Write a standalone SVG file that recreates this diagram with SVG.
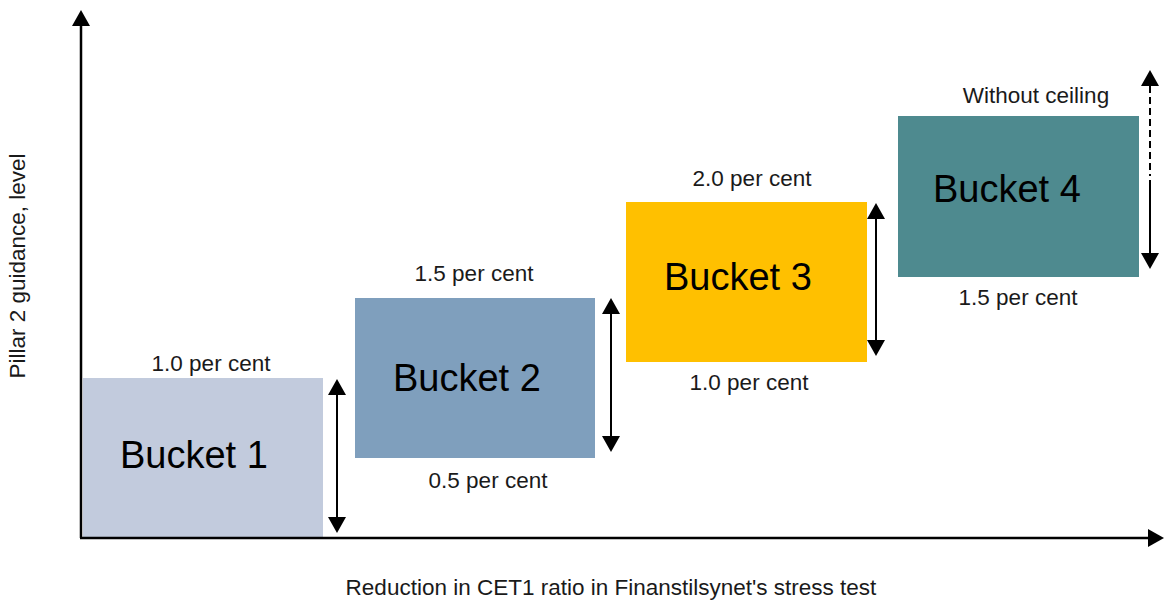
<svg xmlns="http://www.w3.org/2000/svg" width="1164" height="600" viewBox="0 0 1164 600">
  <defs>
    <marker id="head" viewBox="0 0 16 18" refX="0" refY="9" markerWidth="16" markerHeight="18" markerUnits="userSpaceOnUse" orient="auto-start-reverse">
      <path d="M0,0 L16,9 L0,18 Z" fill="#000"/>
    </marker>
    <style>
      .lbl { font-family: "Liberation Sans", Arial, sans-serif; font-size: 22.5px; fill: #1a1a1a; text-anchor: middle; }
      .bk { font-family: "Liberation Sans", Arial, sans-serif; font-size: 38px; fill: #000; }
      .axis { stroke: #000; stroke-width: 2.5; fill: none; }
      .dbl { stroke: #000; stroke-width: 2; fill: none; }
    </style>
  </defs>
  <rect width="1164" height="600" fill="#fff"/>

  <g id="bucket1">
    <rect x="83" y="378" width="240" height="159" fill="#C2CBDD"/>
    <text class="bk" x="120" y="468">Bucket 1</text>
    <text class="lbl" x="211" y="371">1.0 per cent</text>
  </g>
  <g id="bucket2">
    <rect x="355" y="298" width="240" height="160" fill="#7F9FBD"/>
    <text class="bk" x="393" y="391">Bucket 2</text>
    <text class="lbl" x="474" y="281">1.5 per cent</text>
    <text class="lbl" x="488" y="488">0.5 per cent</text>
  </g>
  <g id="bucket3">
    <rect x="626" y="202" width="241" height="160" fill="#FFC000"/>
    <text class="bk" x="664" y="290">Bucket 3</text>
    <text class="lbl" x="752" y="186">2.0 per cent</text>
    <text class="lbl" x="749" y="390">1.0 per cent</text>
  </g>
  <g id="bucket4">
    <rect x="898" y="116" width="241" height="161" fill="#4E8A8F"/>
    <text class="bk" x="933" y="202">Bucket 4</text>
    <text class="lbl" x="1036" y="103">Without ceiling</text>
    <text class="lbl" x="1018" y="305">1.5 per cent</text>
  </g>

  <g id="axes">
    <line class="axis" x1="81" y1="538" x2="81" y2="26" marker-end="url(#head)"/>
    <line class="axis" x1="80" y1="538" x2="1148" y2="538" marker-end="url(#head)"/>
    <text class="lbl" x="611" y="595">Reduction in CET1 ratio in Finanstilsynet's stress test</text>
    <text class="lbl" transform="translate(25,266) rotate(-90)">Pillar 2 guidance, level</text>
  </g>

  <g id="connectors">
    <line class="dbl" x1="337" y1="395" x2="337" y2="517" marker-start="url(#head)" marker-end="url(#head)"/>
    <line class="dbl" x1="611" y1="314" x2="611" y2="436" marker-start="url(#head)" marker-end="url(#head)"/>
    <line class="dbl" x1="876" y1="219" x2="876" y2="340" marker-start="url(#head)" marker-end="url(#head)"/>
    <line class="dbl" x1="1150" y1="86" x2="1150" y2="176" stroke-dasharray="7 4" stroke-width="2.3" marker-start="url(#head)"/>
    <line class="dbl" x1="1150" y1="180" x2="1150" y2="253" marker-end="url(#head)"/>
  </g>
</svg>
